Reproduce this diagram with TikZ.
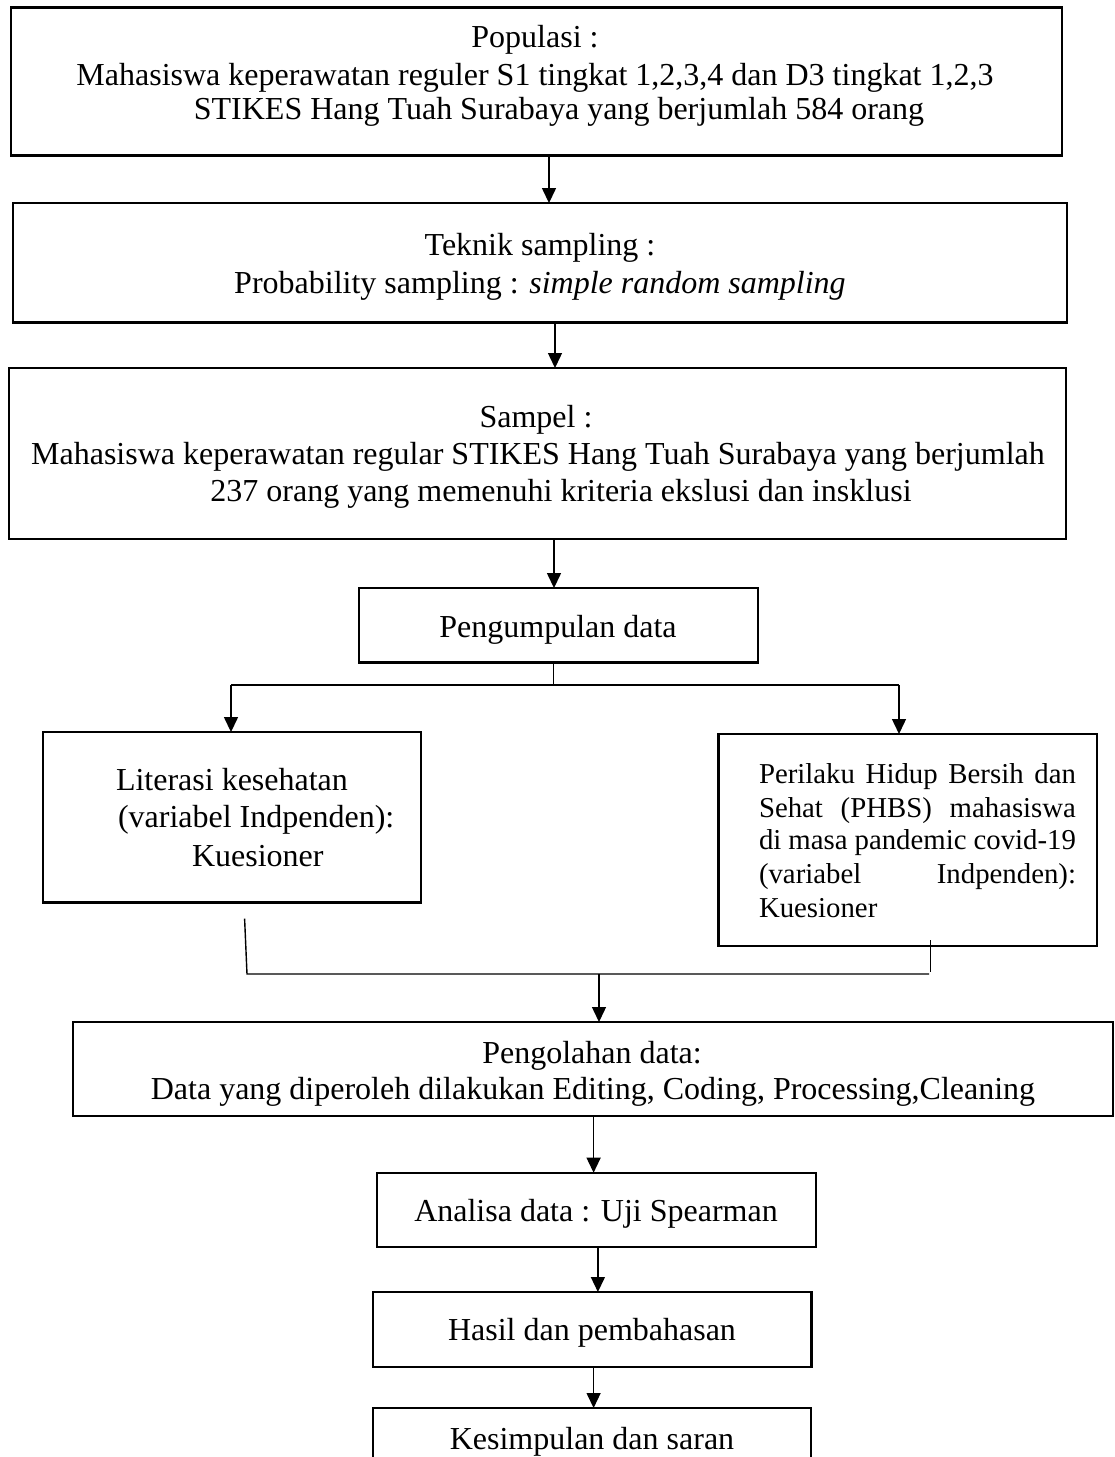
\documentclass[tikz,border=0pt]{standalone}
\usepackage{fontspec}
\setmainfont{Liberation Serif}
\usetikzlibrary{arrows.meta}
\begin{document}
\begin{tikzpicture}[x=1pt,y=-1pt,
  box/.style={draw, line width=2.4pt, rectangle, inner sep=0pt, outer sep=0pt},
  txt/.style={inner sep=0pt, outer sep=0pt, anchor=base, font=\fontsize{32}{37}\selectfont},
  txtl/.style={txt, anchor=base west},
  txts/.style={txtl, font=\fontsize{28.8}{33}\selectfont},
  conn/.style={line width=1.4pt},
  arr/.style={conn, -{Triangle[length=15pt,width=14pt]}}]
\clip (0,0) rectangle (1115,1457);
\fill[white] (0,0) rectangle (1115,1457);

% boxes
\node[box, minimum width=1051pt, minimum height=148pt] (pop) at (536.4,81.5) {};
\node[box, minimum width=1054pt, minimum height=119.5pt] (tek) at (539.9,262.8) {};
\node[box, minimum width=1057pt, minimum height=171pt] (sam) at (537.5,453.5) {};
\node[box, minimum width=399pt, minimum height=74.5pt] (peng) at (558.5,625.3) {};
\node[box, minimum width=378pt, minimum height=170.5pt] (lit) at (232,817.3) {};
\node[box, minimum width=378.4pt, minimum height=212pt] (phbs) at (907.8,840) {};
\node[box, minimum width=1040pt, minimum height=94pt] (olah) at (593,1069) {};
\node[box, minimum width=439pt, minimum height=74pt] (ana) at (596.3,1209.7) {};
\node[box, minimum width=438.4pt, minimum height=75pt] (has) at (592.2,1329.5) {};
\node[box, minimum width=437.7pt, minimum height=75pt] (kes) at (591.9,1445.5) {};

% texts
\node[txt] (pop1) at (535,47) {Populasi :};
\node[txt] (pop2) at (535,85) {Mahasiswa keperawatan reguler S1 tingkat 1,2,3,4 dan D3 tingkat 1,2,3};
\node[txt] (pop3) at (559,119) {STIKES Hang Tuah Surabaya yang berjumlah 584 orang};
\node[txt] (tek1) at (540,255) {Teknik sampling :};
\node[txt] (tek2) at (540,293) {Probability sampling : \textit{simple random sampling}};
\node[txt] (sam1) at (536,427) {Sampel :};
\node[txt] (sam2) at (538,464) {Mahasiswa keperawatan regular STIKES Hang Tuah Surabaya yang berjumlah};
\node[txt] (sam3) at (561,501) {237 orang yang memenuhi kriteria ekslusi dan insklusi};
\node[txt] (peng1) at (558,637) {Pengumpulan data};
\node[txtl] (lit1) at (116,790) {Literasi kesehatan};
\node[txtl] (lit2) at (118,827.5) {(variabel Indpenden):};
\node[txtl] (lit3) at (192,866) {Kuesioner};
\node[txts] (ph1) at (759,783) {\hbox to 317pt{Perilaku Hidup Bersih dan}};
\node[txts] (ph2) at (759,817) {\hbox to 317pt{Sehat (PHBS) mahasiswa}};
\node[txts] (ph3) at (759,849) {\hbox to 317pt{di masa pandemic covid-19}};
\node[txts] (ph4) at (759,883) {\hbox to 317pt{(variabel\hfill Indpenden):}};
\node[txts] (ph5) at (759,917.5) {Kuesioner};
\node[txt] (olah1) at (592,1063) {Pengolahan data:};
\node[txt] (olah2) at (593,1099) {Data yang diperoleh dilakukan Editing, Coding, Processing,Cleaning};
\node[txt] (ana1) at (596,1221) {Analisa data : Uji Spearman};
\node[txt] (has1) at (592,1340) {Hasil dan pembahasan};
\node[txt] (kes1) at (592,1449) {Kesimpulan dan saran};

% connectors
\coordinate (c1) at (549,0);
\coordinate (c2) at (555,0);
\coordinate (c3) at (554,0);
\draw[arr] (pop.south -| c1) -- (tek.north -| c1);
\draw[arr] (tek.south -| c2) -- (sam.north -| c2);
\draw[arr] (sam.south -| c3) -- (peng.north -| c3);

\coordinate (brM) at (553.6,685);
\coordinate (brL) at (231,685);
\coordinate (brR) at (899,685);
\draw[conn] (peng.south -| brM) -- (brM);
\draw[conn] (brL) -- (brR);
\draw[arr] (brL) -- (lit.north -| brL);
\draw[arr] (brR) -- (phbs.north -| brR);

\coordinate (mL0) at (244.6,918.6);
\coordinate (mL) at (247,974);
\coordinate (mR) at (929,974);
\coordinate (mR0) at (930.7,940);
\coordinate (mR1) at (930.7,972);
\coordinate (mM) at (599,974);
\draw[conn] (mL0) -- (mL) -- (mR);
\draw[conn] (mR0) -- (mR1);
\draw[arr] (mM) -- (olah.north -| mM);

\coordinate (c4) at (593.6,0);
\coordinate (c5) at (597.9,0);
\draw[arr] (olah.south -| c4) -- (ana.north -| c4);
\draw[arr] (ana.south -| c5) -- (has.north -| c5);
\draw[arr] (has.south -| c4) -- (kes.north -| c4);
\end{tikzpicture}
\end{document}
